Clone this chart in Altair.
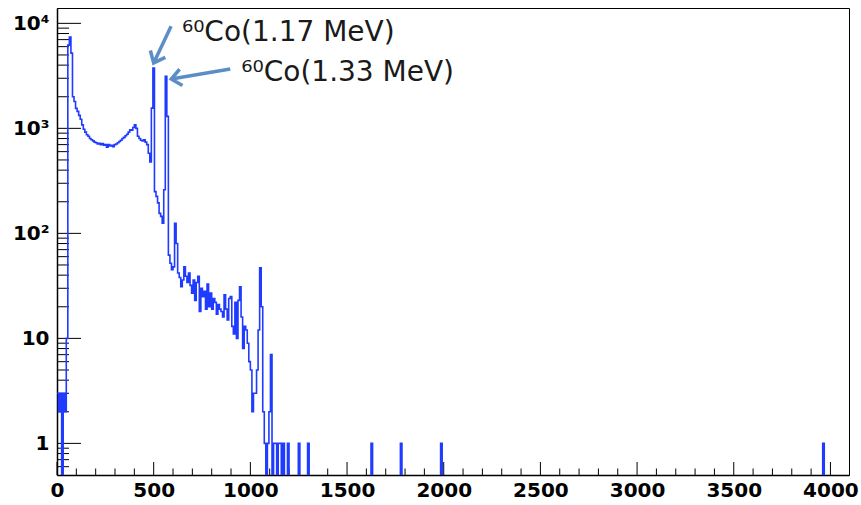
import altair as alt
import pandas as pd

# ---------------- data ----------------
N_BINS = 512          # 4096 ADC channels, 8 channels per bin
X_MAX = 4096

# counts of the first 135 bins (channels 0 .. 1079)
dense_counts = [
    3, 2, 3, 0, 3, 2, 10, 6200, 7400, 5200,
    2000, 1800, 1550, 1450, 1330, 1220, 1080, 980, 920, 870,
    840, 800, 780, 760, 740, 730, 710, 720, 700, 715,
    690, 700, 660, 700, 680, 690, 670, 700, 710, 730,
    750, 770, 800, 820, 850, 880, 920, 970, 960, 1020,
    1080, 1000, 840, 800, 770, 760, 780, 740, 700, 580,
    480, 1560, 3760, 250, 225, 195, 155, 145, 125, 260,
    3130, 1300, 62, 52, 45, 48, 125, 80, 42, 38,
    31, 36, 48, 39, 34, 42, 32, 27, 36, 23,
    34, 39, 18, 30, 25, 28, 19, 33, 20, 27,
    19, 24, 22, 17, 21, 19, 18, 16, 26, 19,
    15, 24, 25, 13, 11, 22, 10, 23, 31, 16,
    8, 13, 12, 9, 6, 5, 2, 3, 3, 5,
    12, 47, 20, 2, 1,
]
# isolated bins further out
sparse_bins = [136, 137, 138, 140, 141, 143, 144, 146, 149, 156, 162, 203, 222, 248, 495]
sparse_counts = [1, 2, 7, 1, 1, 1, 1, 1, 1, 1, 1, 1, 1, 1, 1]

y_major = [1, 10, 100, 1000, 10000]
y_minor = [0.6, 0.7, 0.8, 0.9] + [m * 10 ** k for k in range(4) for m in range(2, 10)]
x_major = list(range(0, 4001, 500))
x_minor = [v for v in range(0, 4096, 100) if v % 500]

peak_text = ["\u2076\u2070Co(1.17 MeV)", "\u2076\u2070Co(1.33 MeV)"]
text_x = [646, 953]
text_y = [6740, 2805]
arrow_x0 = [590, 896]
arrow_y0 = [9365, 3680]
arrow_x1 = [500, 591]
arrow_y1 = [4200, 2945]
arrow_angle = [205, 260]

# ---------------- tables ----------------
bin_w = X_MAX / N_BINS
counts = [0] * N_BINS
counts[:len(dense_counts)] = dense_counts
for b, c in zip(sparse_bins, sparse_counts):
    counts[b] = c
edges = [i * bin_w for i in range(N_BINS + 1)]
vals = counts + [counts[-1]]
LOG_FLOOR = 0.1  # empty bins drop below the log axis (clipped), as in ROOT
hist = pd.DataFrame({"edge": edges, "count": [v if v > 0 else LOG_FLOOR for v in vals]})

ann = pd.DataFrame({"x": text_x, "y": text_y, "t": peak_text})
arr = pd.DataFrame({"x0": arrow_x0, "y0": arrow_y0, "x1": arrow_x1, "y1": arrow_y1,
                    "a": arrow_angle})

W, H = 792, 467
xs = alt.Scale(domain=[0, X_MAX], nice=False, zero=False)
ys = alt.Scale(type="log", domain=[0.5, 14000], nice=False)

label_expr = ("datum.value == 1 ? '1' : datum.value == 10 ? '10' : "
              "datum.value == 100 ? '10\u00b2' : datum.value == 1000 ? '10\u00b3' : '10\u2074'")

xa = alt.Axis(values=x_major, ticks=False, grid=False, format="d", labelFont="DejaVu Sans",
              labelFontWeight="bold", labelFontSize=20, labelColor="black",
              labelPadding=5, labelFlush=False, labelOverlap=False,
              domainColor="black", domainWidth=1.5, title=None)
ya = alt.Axis(values=y_major, ticks=False, grid=False, labelExpr=label_expr,
              labelFont="DejaVu Sans", labelFontWeight="bold", labelFontSize=20,
              labelColor="black", labelPadding=8, labelFlush=False,
              domainColor="black", domainWidth=1.5, title=None)


def X(f):
    return alt.X(f, scale=xs, axis=xa, title=None)


def Y(f):
    return alt.Y(f, scale=ys, axis=ya, title=None)


line = alt.Chart(hist).mark_line(
    interpolate="step-after", clip=True, color="#1f3bff", strokeWidth=1.6
).encode(x=X("edge:Q"), y=Y("count:Q"))

ymaj = alt.Chart(pd.DataFrame({"v": y_major})).mark_rule(color="black", strokeWidth=1).encode(
    y=Y("v:Q"), x=alt.value(0), x2=alt.value(24))
ymin = alt.Chart(pd.DataFrame({"v": y_minor})).mark_rule(color="black", strokeWidth=1).encode(
    y=Y("v:Q"), x=alt.value(0), x2=alt.value(12))
xmaj = alt.Chart(pd.DataFrame({"v": x_major})).mark_rule(color="black", strokeWidth=1).encode(
    x=X("v:Q"), y=alt.value(H), y2=alt.value(H - 13))
xmin = alt.Chart(pd.DataFrame({"v": x_minor})).mark_rule(color="black", strokeWidth=1).encode(
    x=X("v:Q"), y=alt.value(H), y2=alt.value(H - 6.5))

texts = alt.Chart(ann).mark_text(
    align="left", baseline="alphabetic", font="DejaVu Sans", fontSize=28, color="#1a1a1a"
).encode(x=X("x:Q"), y=Y("y:Q"), text="t:N")

ARROW = "#5b8ec6"
shafts = alt.Chart(arr).mark_rule(color=ARROW, strokeWidth=3.5, strokeCap="butt").encode(
    x=X("x0:Q"), y=Y("y0:Q"), x2="x1:Q", y2="y1:Q")
heads = alt.Chart(arr).mark_point(
    shape="M -0.75 0.9 L 0 0 L 0.75 0.9", filled=False, color=ARROW, strokeWidth=3.5,
    size=484, opacity=1, strokeCap="butt", strokeJoin="miter"
).encode(x=X("x1:Q"), y=Y("y1:Q"), angle=alt.Angle("a:Q", scale=None))

chart = alt.layer(xmin, xmaj, ymin, ymaj, line, shafts, heads, texts).properties(
    width=W, height=H,
    padding={"left": 57, "top": 8, "right": 12, "bottom": 30},
    autosize=alt.AutoSizeParams(type="none"),
    background="white",
).configure_view(stroke="black", strokeWidth=1)

chart.save("out.html", embed_options={"renderer": "svg", "actions": False})
